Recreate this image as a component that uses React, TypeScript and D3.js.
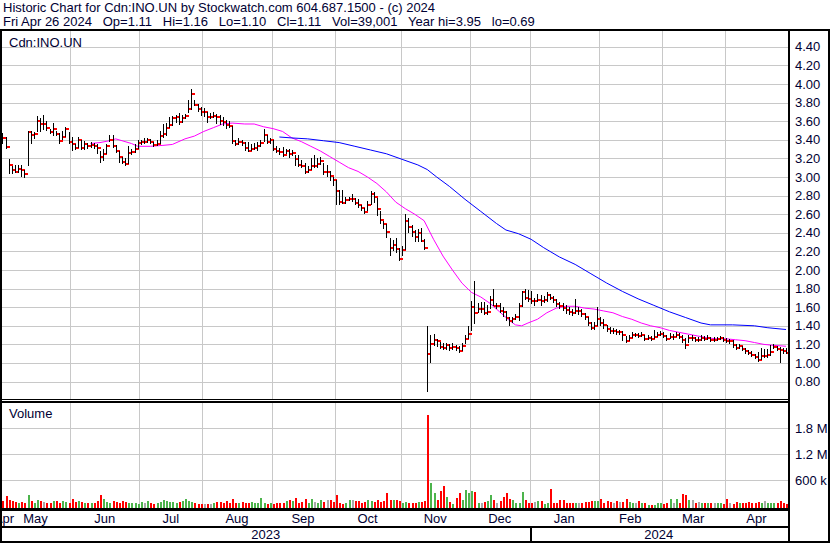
import React from 'react';
import * as d3 from 'd3';

const W = 830;
const H = 543;

// Daily closes (trading-day index 0 = Apr 26 2023 ... 252 = Apr 26 2024)
const CLOSE = [
  3.45, 3.46, 3.44, 3.42, 3.32, 3.13, 3.07, 3.05, 3.09, 3.07,
  3.03, 3.48, 3.45, 3.46, 3.60, 3.57, 3.57, 3.53, 3.48, 3.52,
  3.46, 3.39, 3.43, 3.52, 3.38, 3.36, 3.31, 3.40, 3.31, 3.36,
  3.33, 3.34, 3.33, 3.31, 3.21, 3.25, 3.33, 3.40, 3.33, 3.28,
  3.21, 3.16, 3.14, 3.26, 3.27, 3.30, 3.37, 3.38, 3.38, 3.40,
  3.38, 3.34, 3.36, 3.44, 3.46, 3.53, 3.56, 3.63, 3.64, 3.59,
  3.63, 3.66, 3.73, 3.89, 3.77, 3.73, 3.70, 3.70, 3.65, 3.65,
  3.66, 3.64, 3.60, 3.59, 3.56, 3.55, 3.39, 3.36, 3.38, 3.37,
  3.31, 3.28, 3.30, 3.31, 3.33, 3.37, 3.45, 3.38, 3.40, 3.30,
  3.28, 3.27, 3.24, 3.28, 3.25, 3.26, 3.19, 3.13, 3.12, 3.05,
  3.08, 3.12, 3.12, 3.14, 3.17, 3.05, 3.05, 3.01, 2.97, 2.85,
  2.73, 2.72, 2.75, 2.76, 2.76, 2.72, 2.70, 2.67, 2.62, 2.70,
  2.82, 2.79, 2.66, 2.54, 2.49, 2.41, 2.24, 2.27, 2.23, 2.12,
  2.22, 2.53, 2.46, 2.41, 2.35, 2.40, 2.31, 2.24, 1.10, 1.20,
  1.25, 1.24, 1.17, 1.16, 1.19, 1.16, 1.17, 1.16, 1.13, 1.18,
  1.26, 1.31, 1.60, 1.54, 1.58, 1.58, 1.54, 1.55, 1.68, 1.61,
  1.61, 1.56, 1.55, 1.48, 1.45, 1.47, 1.50, 1.61, 1.76, 1.70,
  1.69, 1.67, 1.67, 1.68, 1.67, 1.68, 1.73, 1.70, 1.68, 1.63,
  1.61, 1.59, 1.57, 1.55, 1.54, 1.56, 1.56, 1.53, 1.49, 1.43,
  1.38, 1.40, 1.47, 1.43, 1.41, 1.37, 1.34, 1.34, 1.33, 1.33,
  1.30, 1.24, 1.27, 1.30, 1.30, 1.29, 1.30, 1.26, 1.27, 1.26,
  1.28, 1.30, 1.31, 1.29, 1.26, 1.28, 1.28, 1.30, 1.28, 1.25,
  1.19, 1.27, 1.27, 1.25, 1.25, 1.27, 1.26, 1.27, 1.25, 1.25,
  1.26, 1.27, 1.25, 1.24, 1.24, 1.19, 1.16, 1.18, 1.15, 1.13,
  1.11, 1.09, 1.06, 1.03, 1.07, 1.07, 1.09, 1.12, 1.17, 1.15,
  1.14, 1.13, 1.11,
];

const HIGH = [
  3.50, 3.52, 3.48, 3.47, 3.43, 3.19, 3.12, 3.13, 3.13, 3.13,
  3.08, 3.50, 3.49, 3.48, 3.66, 3.63, 3.67, 3.60, 3.52, 3.58,
  3.49, 3.47, 3.50, 3.54, 3.48, 3.43, 3.36, 3.43, 3.40, 3.39,
  3.37, 3.38, 3.37, 3.35, 3.28, 3.30, 3.36, 3.45, 3.45, 3.34,
  3.28, 3.22, 3.20, 3.33, 3.30, 3.35, 3.40, 3.40, 3.42, 3.42,
  3.41, 3.38, 3.40, 3.50, 3.57, 3.58, 3.65, 3.66, 3.67, 3.69,
  3.67, 3.68, 3.83, 3.95, 3.83, 3.78, 3.75, 3.74, 3.70, 3.69,
  3.70, 3.68, 3.67, 3.65, 3.61, 3.60, 3.55, 3.40, 3.42, 3.40,
  3.38, 3.38, 3.36, 3.37, 3.38, 3.40, 3.52, 3.45, 3.42, 3.40,
  3.33, 3.31, 3.32, 3.30, 3.30, 3.29, 3.24, 3.24, 3.18, 3.15,
  3.12, 3.20, 3.24, 3.20, 3.22, 3.15, 3.13, 3.06, 3.00, 2.97,
  2.86, 2.86, 2.78, 2.79, 2.82, 2.77, 2.76, 2.70, 2.67, 2.74,
  2.85, 2.84, 2.77, 2.63, 2.53, 2.49, 2.34, 2.32, 2.34, 2.24,
  2.26, 2.60, 2.56, 2.48, 2.43, 2.44, 2.45, 2.33, 1.40, 1.30,
  1.31, 1.26, 1.23, 1.21, 1.22, 1.20, 1.22, 1.19, 1.18, 1.22,
  1.30, 1.40, 1.67, 1.88, 1.65, 1.66, 1.66, 1.62, 1.72, 1.80,
  1.65, 1.65, 1.60, 1.56, 1.50, 1.50, 1.53, 1.64, 1.77, 1.80,
  1.78, 1.77, 1.70, 1.74, 1.73, 1.72, 1.76, 1.74, 1.72, 1.69,
  1.66, 1.64, 1.62, 1.60, 1.58, 1.69, 1.60, 1.58, 1.54, 1.50,
  1.44, 1.44, 1.60, 1.50, 1.47, 1.41, 1.39, 1.38, 1.37, 1.36,
  1.34, 1.29, 1.30, 1.33, 1.32, 1.32, 1.33, 1.30, 1.30, 1.29,
  1.36, 1.33, 1.34, 1.33, 1.30, 1.32, 1.31, 1.33, 1.32, 1.30,
  1.27, 1.30, 1.30, 1.28, 1.28, 1.30, 1.29, 1.30, 1.28, 1.28,
  1.28, 1.29, 1.28, 1.27, 1.26, 1.25, 1.20, 1.20, 1.18, 1.16,
  1.14, 1.13, 1.10, 1.12, 1.16, 1.15, 1.15, 1.19, 1.20, 1.18,
  1.17, 1.16, 1.16,
];

const LOW = [
  3.40, 3.42, 3.38, 3.36, 3.30, 3.03, 3.03, 3.04, 3.04, 3.00,
  2.99, 3.12, 3.35, 3.41, 3.48, 3.48, 3.51, 3.50, 3.46, 3.44,
  3.44, 3.36, 3.40, 3.43, 3.36, 3.28, 3.29, 3.31, 3.29, 3.29,
  3.30, 3.31, 3.30, 3.25, 3.15, 3.17, 3.25, 3.38, 3.31, 3.26,
  3.15, 3.14, 3.12, 3.14, 3.24, 3.26, 3.30, 3.34, 3.35, 3.37,
  3.35, 3.32, 3.33, 3.36, 3.42, 3.44, 3.53, 3.55, 3.58, 3.56,
  3.58, 3.62, 3.69, 3.72, 3.76, 3.70, 3.66, 3.64, 3.58, 3.62,
  3.63, 3.57, 3.56, 3.55, 3.52, 3.53, 3.35, 3.33, 3.34, 3.33,
  3.28, 3.27, 3.28, 3.29, 3.28, 3.32, 3.38, 3.35, 3.36, 3.28,
  3.26, 3.24, 3.22, 3.25, 3.20, 3.23, 3.12, 3.11, 3.10, 3.03,
  3.04, 3.08, 3.10, 3.10, 3.13, 3.02, 3.00, 2.96, 2.90, 2.70,
  2.70, 2.71, 2.71, 2.74, 2.73, 2.70, 2.67, 2.63, 2.60, 2.63,
  2.70, 2.72, 2.58, 2.50, 2.44, 2.34, 2.15, 2.20, 2.18, 2.10,
  2.15, 2.22, 2.40, 2.35, 2.30, 2.30, 2.30, 2.22, 0.69, 1.00,
  1.18, 1.17, 1.15, 1.14, 1.14, 1.13, 1.14, 1.13, 1.11, 1.13,
  1.20, 1.26, 1.34, 1.42, 1.54, 1.54, 1.52, 1.52, 1.58, 1.61,
  1.58, 1.54, 1.50, 1.45, 1.40, 1.43, 1.46, 1.45, 1.60, 1.68,
  1.66, 1.63, 1.61, 1.66, 1.61, 1.64, 1.66, 1.68, 1.65, 1.60,
  1.58, 1.56, 1.53, 1.52, 1.51, 1.53, 1.52, 1.50, 1.46, 1.40,
  1.36, 1.36, 1.40, 1.40, 1.37, 1.33, 1.31, 1.31, 1.30, 1.30,
  1.24, 1.22, 1.24, 1.27, 1.28, 1.27, 1.28, 1.24, 1.25, 1.24,
  1.26, 1.28, 1.29, 1.27, 1.24, 1.26, 1.25, 1.28, 1.26, 1.22,
  1.15, 1.22, 1.24, 1.23, 1.23, 1.24, 1.24, 1.25, 1.23, 1.23,
  1.24, 1.25, 1.23, 1.22, 1.20, 1.16, 1.14, 1.15, 1.13, 1.10,
  1.09, 1.06, 1.04, 1.01, 1.03, 1.05, 1.05, 1.07, 1.15, 1.13,
  1.00, 1.10, 1.10,
];

// Daily volume, thousands of shares
const VOLUME = [
  90, 80, 60, 120, 230, 140, 110, 90, 80, 100,
  80, 250, 120, 70, 150, 120, 90, 80, 70, 120,
  110, 60, 120, 90, 80, 160, 90, 110, 100, 60,
  70, 80, 60, 120, 250, 160, 90, 60, 110, 100,
  80, 110, 90, 70, 60, 80, 40, 90, 70, 120,
  80, 40, 60, 90, 140, 110, 90, 100, 80, 90,
  120, 160, 110, 90, 60, 50, 40, 50, 40, 40,
  80, 90, 100, 70, 120, 80, 160, 60, 80, 100,
  70, 60, 90, 70, 80, 180, 60, 40, 60, 50,
  60, 70, 80, 110, 140, 120, 190, 70, 90, 170,
  80, 170, 90, 70, 150, 100, 140, 130, 100, 250,
  70, 50, 60, 140, 130, 110, 120, 80, 100, 150,
  120, 90, 130, 100, 120, 300, 150, 140, 130, 110,
  80, 90, 80, 60, 80, 100, 100, 120, 2100, 540,
  300, 150, 350, 460, 200, 100, 40, 180, 300, 130,
  380, 300, 350, 320, 60, 80, 100, 120, 250, 150,
  70, 120, 200, 300, 170, 150, 60, 60, 330, 130,
  70, 60, 100, 120, 120, 50, 60, 400, 60, 80,
  130, 130, 60, 60, 70, 60, 80, 80, 100, 90,
  120, 120, 110, 160, 80, 110, 90, 70, 110, 100,
  90, 160, 100, 80, 70, 120, 60, 80, 30, 30,
  30, 60, 60, 40, 60, 170, 80, 170, 60, 280,
  260, 130, 130, 60, 100, 80, 60, 60, 80, 60,
  70, 60, 40, 170, 60, 40, 90, 80, 70, 70,
  100, 80, 80, 90, 70, 110, 80, 80, 60, 60,
  120, 60, 40,
];

// Moving averages: [trading-day index, value]
const MA_PINK = [
  [31, 3.36], [34, 3.37], [37, 3.39], [39, 3.41], [41, 3.39], [44, 3.36], [46, 3.33],
  [50, 3.33], [54, 3.34], [57, 3.35], [61, 3.41], [64, 3.44], [67, 3.49], [70, 3.53],
  [73, 3.57], [76, 3.58], [80, 3.57], [83, 3.57], [86, 3.54], [89, 3.52], [92, 3.49],
  [95, 3.42], [98, 3.38], [101, 3.33], [104, 3.28], [107, 3.22], [110, 3.16], [113, 3.10],
  [116, 3.06], [119, 3.00], [122, 2.93], [125, 2.84], [128, 2.73], [131, 2.66], [134, 2.60],
  [137, 2.53], [140, 2.33], [143, 2.15], [146, 2.00], [149, 1.86], [152, 1.76], [155, 1.71],
  [158, 1.64], [161, 1.55], [164, 1.46], [166, 1.41], [168, 1.40], [170, 1.43], [173, 1.47],
  [176, 1.54], [179, 1.59], [182, 1.61], [185, 1.61], [188, 1.59], [191, 1.58], [194, 1.56],
  [197, 1.54], [200, 1.50], [203, 1.47], [206, 1.43], [209, 1.40], [212, 1.38], [215, 1.35],
  [218, 1.33], [221, 1.31], [224, 1.29], [227, 1.27], [230, 1.26], [233, 1.26], [236, 1.25],
  [239, 1.24], [242, 1.22], [245, 1.20], [248, 1.19], [252, 1.18],
];

const MA_BLUE = [
  [91, 3.43], [95, 3.42], [100, 3.41], [105, 3.39], [110, 3.37], [115, 3.33], [120, 3.29],
  [125, 3.25], [130, 3.19], [135, 3.13], [138, 3.08], [141, 3.00], [145, 2.90], [150, 2.76],
  [155, 2.63], [160, 2.50], [163, 2.43], [167, 2.39], [171, 2.33], [175, 2.24], [180, 2.14],
  [185, 2.06], [190, 1.96], [195, 1.86], [200, 1.77], [205, 1.69], [210, 1.62], [215, 1.55],
  [220, 1.49], [225, 1.43], [228, 1.41], [235, 1.41], [242, 1.40], [246, 1.38], [252, 1.36],
];

const MONTH_LABELS = ['Apr', 'May', 'Jun', 'Jul', 'Aug', 'Sep', 'Oct', 'Nov', 'Dec', 'Jan', 'Feb', 'Mar', 'Apr'];
const MONTH_START = [0, 3, 25, 47, 67, 89, 109, 130, 152, 171, 193, 213, 233];
const YEAR_LABELS = ['2023', '2024'];
const YEAR_START = [0, 171];
const PRICE_TICKS = [0.8, 1.0, 1.2, 1.4, 1.6, 1.8, 2.0, 2.2, 2.4, 2.6, 2.8, 3.0, 3.2, 3.4, 3.6, 3.8, 4.0, 4.2, 4.4];
const VOL_TICKS = [600, 1200, 1800];
const VOL_TICK_LABELS = ['600 k', '1.2 M', '1.8 M'];

const HEADER_1 = 'Historic Chart for Cdn:INO.UN by Stockwatch.com 604.687.1500 - (c) 2024';
const HEADER_2 = 'Fri Apr 26 2024   Op=1.11   Hi=1.16   Lo=1.10   Cl=1.11   Vol=39,001   Year hi=3.95   lo=0.69';
const SYMBOL = 'Cdn:INO.UN';

const FONT = '"Liberation Sans", Arial, sans-serif';
const TEXT = '#000033';
const GRID = '#c8c8c8';

const PLOT_L = 2;
const PLOT_R = 788;
const P_TOP = 31;
const P_BOT = 399;
const V_TOP = 403;
const V_BOT = 508;
const LAST = CLOSE.length - 1;

export default function App() {
  const x = d3.scaleLinear().domain([0, LAST]).range([-7, 786]);
  const y = d3.scaleLinear().domain([0.8, 4.4]).range([381.6, 46.8]);
  const vy = d3.scaleLinear().domain([0, 1800]).range([506, 428.4]);
  const fmt = d3.format('.2f');
  const px = (v: number) => Math.round(v) + 0.5;

  const linePink = d3.line<number[]>().x((d) => x(d[0])).y((d) => y(d[1]));
  const lineBlue = d3.line<number[]>().x((d) => x(d[0])).y((d) => y(d[1]));

  const gridX = MONTH_START.slice(1).map((s) => Math.round(x(s) - 1.5) + 0.5);

  const monthCenters = MONTH_LABELS.map((m, k) => {
    const a = x(MONTH_START[k]) - 1.5;
    const b = k + 1 < MONTH_START.length ? x(MONTH_START[k + 1]) - 1.5 : PLOT_R;
    return Math.max((a + b) / 2, 4);
  });
  const yearCenters = YEAR_LABELS.map((yl, k) => {
    const a = k === 0 ? PLOT_L : x(YEAR_START[k]) - 1.5;
    const b = k + 1 < YEAR_START.length ? x(YEAR_START[k + 1]) - 1.5 : PLOT_R;
    return (a + b) / 2;
  });
  const yearDiv = Math.round(x(YEAR_START[1]) - 1.5);

  const volColor = (i: number) => {
    if (i === 0) return '#4cb44c';
    const d = Math.round((CLOSE[i] - CLOSE[i - 1]) * 100);
    if (d > 0) return '#4cb44c';
    if (d < 0) return '#ff0000';
    return '#a8a8a8';
  };

  return (
    <svg
      width={W}
      height={H}
      viewBox={`0 0 ${W} ${H}`}
      style={{ position: 'absolute', left: 0, top: 0, background: '#ffffff', fontFamily: FONT }}
    >
      <defs>
        <clipPath id="priceClip">
          <rect x={PLOT_L} y={P_TOP} width={PLOT_R - PLOT_L} height={P_BOT - P_TOP} />
        </clipPath>
        <clipPath id="volClip">
          <rect x={PLOT_L} y={V_TOP} width={PLOT_R - PLOT_L} height={V_BOT - V_TOP + 1} />
        </clipPath>
        <clipPath id="axisClip">
          <rect x={PLOT_L} y={510} width={PLOT_R - PLOT_L} height={33} />
        </clipPath>
      </defs>
      <rect x={0} y={0} width={W} height={H} fill="#ffffff" />

      {/* header */}
      <text x={3} y={12} fontSize={13} fill={TEXT} style={{ whiteSpace: 'pre' }}>{HEADER_1}</text>
      <text x={3} y={26} fontSize={13} fill={TEXT} style={{ whiteSpace: 'pre' }}>{HEADER_2}</text>

      {/* price grid */}
      <g clipPath="url(#priceClip)" shapeRendering="crispEdges">
        {PRICE_TICKS.map((t) => (
          <line key={'hp' + t} x1={PLOT_L} x2={PLOT_R} y1={px(y(t))} y2={px(y(t))} stroke={GRID} strokeWidth={1} />
        ))}
        {gridX.map((gx, k) => (
          <line key={'vp' + k} x1={gx} x2={gx} y1={P_TOP} y2={P_BOT} stroke={GRID} strokeWidth={1} />
        ))}
      </g>

      {/* volume grid */}
      <g clipPath="url(#volClip)" shapeRendering="crispEdges">
        {VOL_TICKS.map((t) => (
          <line key={'hv' + t} x1={PLOT_L} x2={PLOT_R} y1={px(vy(t))} y2={px(vy(t))} stroke={GRID} strokeWidth={1} />
        ))}
        {gridX.map((gx, k) => (
          <line key={'vv' + k} x1={gx} x2={gx} y1={V_TOP} y2={V_BOT} stroke={GRID} strokeWidth={1} />
        ))}
      </g>

      {/* moving averages */}
      <g clipPath="url(#priceClip)">
        <path d={linePink(MA_PINK) || ''} fill="none" stroke="#ff00ff" strokeWidth={1} />
        <path d={lineBlue(MA_BLUE) || ''} fill="none" stroke="#0000ff" strokeWidth={1} />
      </g>

      {/* price bars */}
      <g clipPath="url(#priceClip)" shapeRendering="crispEdges">
        {CLOSE.map((c, i) => {
          const bx = Math.round(x(i));
          const yh = Math.round(y(HIGH[i]));
          const yl = Math.max(Math.round(y(LOW[i])), yh + 2);
          const yc = Math.round(y(c));
          return (
            <g key={'b' + i}>
              <rect x={bx} y={yh} width={1} height={yl - yh} fill="#000000" />
              <rect x={bx + 1} y={yc - 1} width={3} height={2} fill="#ff0000" />
            </g>
          );
        })}
      </g>

      {/* volume bars */}
      <g clipPath="url(#volClip)" shapeRendering="crispEdges">
        {VOLUME.map((v, i) => {
          const bx = Math.round(x(i));
          const top = Math.round(vy(v));
          return <rect key={'v' + i} x={bx} y={top} width={2} height={V_BOT - top} fill={volColor(i)} />;
        })}
      </g>

      {/* labels inside panels */}
      <text x={9} y={47} fontSize={13} fill={TEXT}>{SYMBOL}</text>
      <text x={9} y={418} fontSize={13} fill={TEXT}>Volume</text>

      {/* right axis labels */}
      {PRICE_TICKS.map((t) => (
        <text key={'pl' + t} x={795} y={y(t) + 4.5} fontSize={13} fill={TEXT}>{fmt(t)}</text>
      ))}
      {VOL_TICKS.map((t, k) => (
        <text key={'vl' + t} x={795} y={vy(t) + 4.5} fontSize={13} fill={TEXT}>{VOL_TICK_LABELS[k]}</text>
      ))}

      {/* x axis labels */}
      <g clipPath="url(#axisClip)">
        {MONTH_LABELS.map((m, k) => (
          <text key={'m' + k} x={monthCenters[k]} y={523} fontSize={13} fill={TEXT} textAnchor="middle">{m}</text>
        ))}
        {YEAR_LABELS.map((yl, k) => (
          <text key={'y' + k} x={yearCenters[k]} y={539} fontSize={13} fill={TEXT} textAnchor="middle">{yl}</text>
        ))}
      </g>

      {/* frame */}
      <g shapeRendering="crispEdges" fill="#000000">
        <rect x={0} y={29} width={W} height={2} />
        <rect x={0} y={29} width={2} height={H - 29} />
        <rect x={PLOT_R} y={29} width={2} height={H - 29} />
        <rect x={W - 2} y={29} width={2} height={H - 29} />
        <rect x={0} y={P_BOT} width={PLOT_R} height={1} />
        <rect x={0} y={401} width={PLOT_R} height={2} />
        <rect x={0} y={V_BOT} width={PLOT_R} height={3} />
        <rect x={0} y={526} width={PLOT_R} height={2} />
        <rect x={0} y={541} width={W} height={2} />
        <rect x={yearDiv} y={526} width={2} height={17} />
      </g>
    </svg>
  );
}
